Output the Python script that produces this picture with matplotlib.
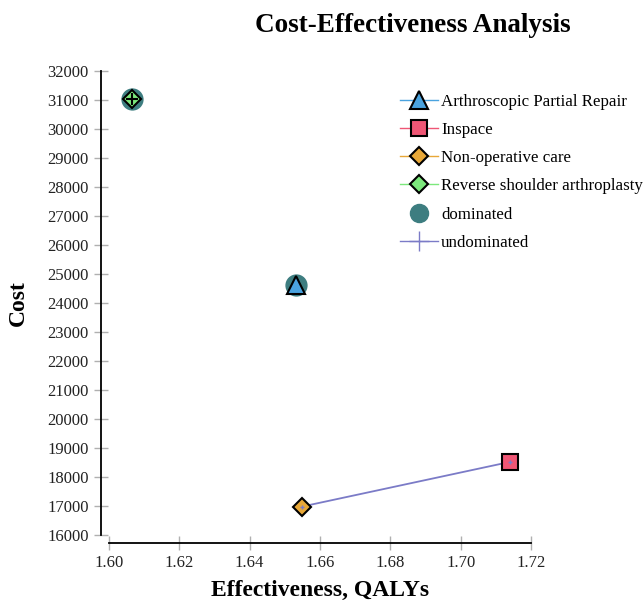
import numpy as np
import matplotlib
matplotlib.use("Agg")
import matplotlib.pyplot as plt
from matplotlib.lines import Line2D

plt.rcParams["font.family"] = "serif"
plt.rcParams["font.serif"] = ["Liberation Serif", "DejaVu Serif"]

# strategies
names = ['Arthroscopic Partial Repair', 'Inspace', 'Non-operative care',
         'Reverse shoulder arthroplasty']
effect = [1.6532, 1.7140, 1.6549, 1.6065]
cost = [24620, 18520, 16980, 31050]
dominated = [True, False, False, True]

# undominated frontier
front_x = [1.6549, 1.7140]
front_y = [16980, 18520]

xticks = [1.60, 1.62, 1.64, 1.66, 1.68, 1.70, 1.72]
yticks = list(range(16000, 32001, 1000))

markers = ['^', 's', 'D', 'D']
fills = ['#4aa3df', '#ef5675', '#e8a838', '#7ce87c']
line_cols = ['#4aa3df', '#ef5675', '#e8a838', '#7ce87c']
sizes = [13, 12, 9, 9]
dom_col = '#3d7d80'
front_col = '#7b7bc7'

fig = plt.figure(figsize=(6.44, 6.0), dpi=100)
ax = fig.add_axes([0.169, 0.1083, 0.6555, 0.7734])

# dominated circles
for i in range(len(names)):
    if dominated[i]:
        ax.plot(effect[i], cost[i], 'o', color=dom_col, markersize=15, zorder=2)

ax.plot(front_x, front_y, '-', color=front_col, linewidth=1.3, zorder=3)

for i in range(len(names)):
    ax.plot(effect[i], cost[i], marker=markers[i], markersize=sizes[i],
            markerfacecolor=fills[i], markeredgecolor='black',
            markeredgewidth=1.5, linestyle='none', zorder=4)
    if i == 3:
        ax.plot(effect[i], cost[i], marker='+', markersize=8, color='black',
                markeredgewidth=1.5, linestyle='none', zorder=5)

ax.plot(front_x, front_y, '+', color=front_col, markersize=3, zorder=6)

ax.set_xlim(1.60, 1.72)
ax.set_ylim(16000, 32000)
ax.set_xticks(xticks)
ax.set_xticklabels(['%.2f' % v for v in xticks])
ax.set_yticks(yticks)

for s in ['top', 'right']:
    ax.spines[s].set_visible(False)
for s in ['left', 'bottom']:
    ax.spines[s].set_position(('outward', 6))
    ax.spines[s].set_linewidth(1.3)
ax.tick_params(direction='inout', length=10, width=1, color='#b0b0b0',
               labelsize=12, labelcolor='#222222')

ax.set_xlabel('Effectiveness, QALYs', fontsize=17, fontweight='bold', labelpad=6)
ax.set_ylabel('Cost', fontsize=17, fontweight='bold', labelpad=13)
fig.text(0.641, 0.957, 'Cost-Effectiveness Analysis', fontsize=19.5,
         fontweight='bold', ha='center', va='center')

handles = []
for i in range(len(names)):
    handles.append(Line2D([0], [0], color=line_cols[i], linewidth=1,
                          marker=markers[i], markersize=sizes[i],
                          markerfacecolor=fills[i], markeredgecolor='black',
                          markeredgewidth=1.5))
handles.append(Line2D([0], [0], color='none', marker='o', markersize=13,
                      markerfacecolor=dom_col, markeredgecolor=dom_col))
handles.append(Line2D([0], [0], color=front_col, linewidth=1, marker='+',
                      markersize=14, markeredgewidth=1))
labels = names + ['dominated', 'undominated']
fig.legend(handles, labels, loc='upper left', bbox_to_anchor=(0.611, 0.855),
           frameon=False, fontsize=12.2, handlelength=2.2, handletextpad=0.2,
           labelspacing=0.72, borderaxespad=0)

fig.savefig('out.png', dpi=100)
